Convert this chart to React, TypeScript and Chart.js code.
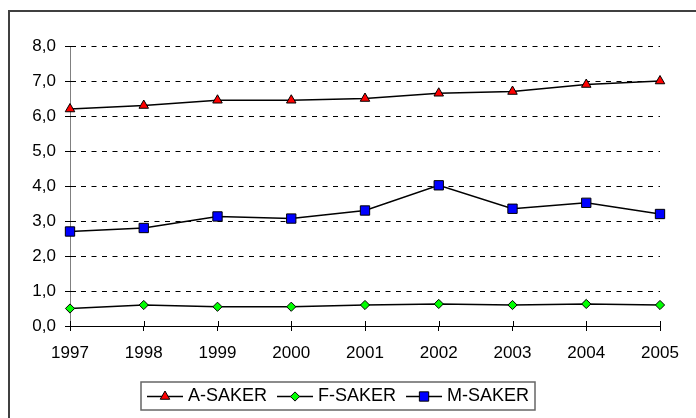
import React, { useEffect, useRef } from 'react';
import { Chart, registerables } from 'chart.js';

Chart.register(...registerables);

const years = ['1997', '1998', '1999', '2000', '2001', '2002', '2003', '2004', '2005'];
const aSaker = [6.2, 6.3, 6.45, 6.45, 6.5, 6.65, 6.7, 6.9, 7.0];
const fSaker = [0.5, 0.6, 0.55, 0.55, 0.6, 0.63, 0.6, 0.63, 0.6];
const mSaker = [2.7, 2.8, 3.13, 3.07, 3.3, 4.02, 3.35, 3.52, 3.2];
const seriesNames = ['A-SAKER', 'F-SAKER', 'M-SAKER'];
const seriesColors = ['#ff0000', '#00ff00', '#0000ff'];
const seriesStyles = ['triangle', 'rectRot', 'rect'];
const seriesRadii = [5.5, 4.6, 6.6];
const yMin = 0;
const yMax = 8;
const yStep = 1;

const FONT = "Arial, 'Liberation Sans', sans-serif";

function drawMarker(ctx: CanvasRenderingContext2D, style: string, x: number, y: number, r: number, fill: string) {
  ctx.save();
  ctx.beginPath();
  if (style === 'triangle') {
    ctx.moveTo(x, y - r);
    ctx.lineTo(x + r * Math.sin(Math.PI * 2 / 3), y + r / 2);
    ctx.lineTo(x - r * Math.sin(Math.PI * 2 / 3), y + r / 2);
    ctx.closePath();
  } else if (style === 'rectRot') {
    ctx.moveTo(x, y - r);
    ctx.lineTo(x + r, y);
    ctx.lineTo(x, y + r);
    ctx.lineTo(x - r, y);
    ctx.closePath();
  } else {
    const s = r * Math.SQRT1_2;
    ctx.rect(x - s, y - s, 2 * s, 2 * s);
  }
  ctx.fillStyle = fill;
  ctx.fill();
  ctx.lineWidth = 1;
  ctx.strokeStyle = '#000';
  ctx.stroke();
  ctx.restore();
}

// inner halves of the cross tick marks (Excel style)
const innerTicksPlugin = {
  id: 'innerTicks',
  beforeDatasetsDraw(chart: any) {
    const ctx: CanvasRenderingContext2D = chart.ctx;
    const xs = chart.scales.x;
    const ys = chart.scales.y;
    const area = chart.chartArea;
    ctx.save();
    ctx.strokeStyle = '#000';
    ctx.lineWidth = 1;
    ctx.beginPath();
    ys.ticks.forEach((_t: any, i: number) => {
      const py = Math.round(ys.getPixelForTick(i)) + 0.5;
      ctx.moveTo(area.left, py);
      ctx.lineTo(area.left + 6, py);
    });
    xs.ticks.forEach((_t: any, i: number) => {
      const px = Math.round(xs.getPixelForTick(i)) + 0.5;
      ctx.moveTo(px, area.bottom);
      ctx.lineTo(px, area.bottom - 5);
    });
    ctx.stroke();
    ctx.restore();
  },
};

const legendPlugin = {
  id: 'boxLegend',
  afterDraw(chart: any) {
    const ctx: CanvasRenderingContext2D = chart.ctx;
    ctx.save();
    const boxL = 141, boxT = 382, boxR = 535, boxB = 410;
    ctx.lineWidth = 1.5;
    ctx.strokeStyle = '#666';
    ctx.strokeRect(boxL, boxT, boxR - boxL, boxB - boxT);
    ctx.font = `18px ${FONT}`;
    ctx.textBaseline = 'middle';
    ctx.textAlign = 'left';
    ctx.fillStyle = '#000';
    const cy = (boxT + boxB) / 2 + 0.5;
    let x = 147;
    seriesNames.forEach((name, i) => {
      ctx.beginPath();
      ctx.moveTo(x, cy);
      ctx.lineTo(x + 36, cy);
      ctx.lineWidth = 1.5;
      ctx.strokeStyle = '#000';
      ctx.stroke();
      drawMarker(ctx, seriesStyles[i], x + 18, cy, seriesRadii[i], seriesColors[i]);
      ctx.fillStyle = '#000';
      ctx.fillText(name, x + 41, cy);
      x += 41 + ctx.measureText(name).width + 10;
    });
    ctx.restore();
  },
};

export default function App() {
  const canvasRef = useRef<HTMLCanvasElement | null>(null);

  useEffect(() => {
    const canvas = canvasRef.current;
    if (!canvas) return;
    const seriesData = [aSaker, fSaker, mSaker];
    const chart = new Chart(canvas, {
      type: 'line',
      data: {
        labels: years,
        datasets: seriesNames.map((name, i) => ({
          label: name,
          data: seriesData[i],
          borderColor: '#000',
          borderWidth: 1.5,
          backgroundColor: seriesColors[i],
          pointStyle: seriesStyles[i] as any,
          pointRadius: seriesRadii[i],
          pointBorderColor: '#000',
          pointBorderWidth: 1,
          pointBackgroundColor: seriesColors[i],
          tension: 0,
          fill: false,
        })),
      },
      options: {
        animation: false,
        responsive: false,
        maintainAspectRatio: false,
        devicePixelRatio: 1,
        layout: { padding: { left: 0, top: 46, right: 36, bottom: 0 } },
        plugins: {
          legend: { display: false },
          tooltip: { enabled: false },
        },
        scales: {
          x: {
            type: 'category',
            offset: false,
            grid: {
              display: true,
              drawOnChartArea: false,
              drawTicks: true,
              tickLength: 5,
              tickColor: '#000',
              tickWidth: 1,
            },
            border: { display: true, color: '#000', width: 1 },
            ticks: {
              color: '#000',
              font: { family: FONT, size: 17 },
              padding: 12,
              maxRotation: 0,
              autoSkip: false,
            },
            afterFit: (s: any) => { s.height = 92; },
          },
          y: {
            min: yMin,
            max: yMax,
            grid: {
              display: true,
              color: '#000',
              lineWidth: 1,
              drawTicks: true,
              tickLength: 5,
              tickColor: '#000',
              tickWidth: 1,
            },
            border: { display: true, color: '#808080', width: 1, dash: [5, 5.5], dashOffset: -10 },
            ticks: {
              stepSize: yStep,
              color: '#000',
              font: { family: FONT, size: 17 },
              padding: 9,
              callback: (v: any) => Number(v).toFixed(1).replace('.', ','),
            },
            afterFit: (s: any) => { s.width = 70; },
          },
        },
      },
      plugins: [innerTicksPlugin, legendPlugin],
    });
    return () => chart.destroy();
  }, []);

  return (
    <div style={{ position: 'fixed', left: 0, top: 0, width: 696, height: 418, overflow: 'hidden', background: '#fff' }}>
      <div style={{ position: 'absolute', left: 8, top: 10, width: 800, height: 600, border: '2px solid #404040' }} />
      <canvas ref={canvasRef} width={696} height={418} style={{ position: 'absolute', left: 0, top: 0, width: 696, height: 418 }} />
    </div>
  );
}
